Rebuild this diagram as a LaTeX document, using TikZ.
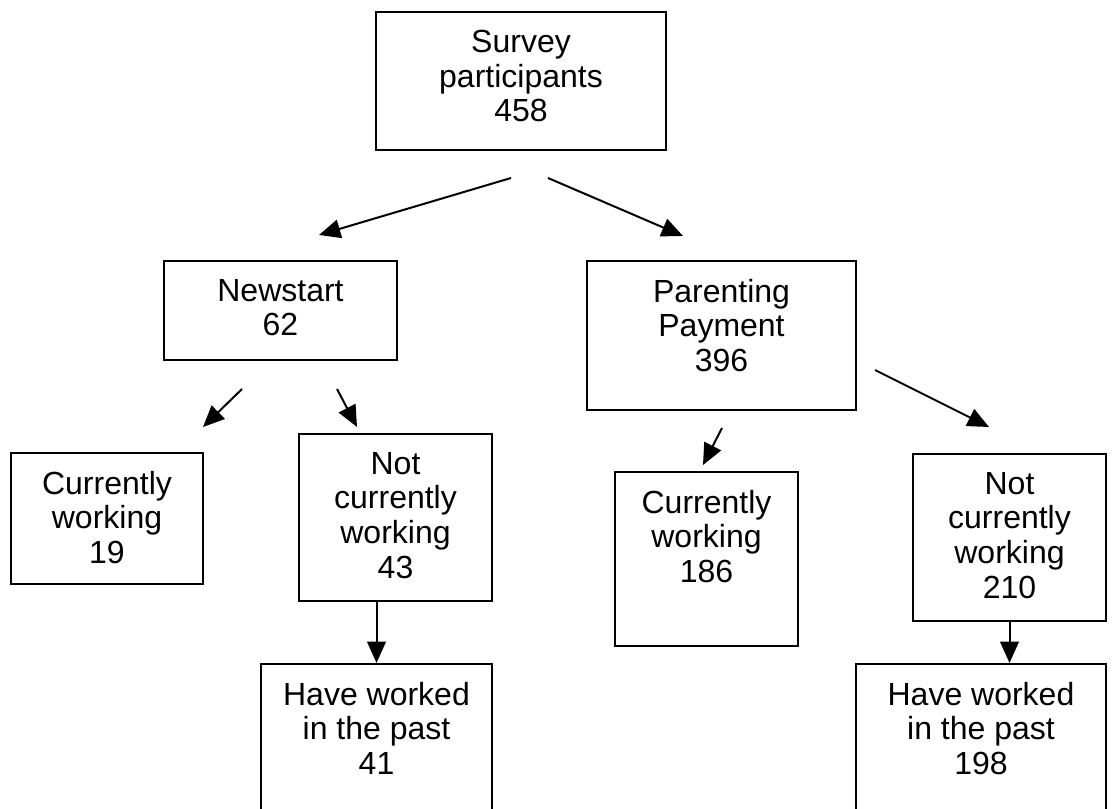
\documentclass[tikz,border=0pt]{standalone}
\usepackage{fontspec}
\setmainfont{Liberation Sans}
\usetikzlibrary{arrows.meta}

\begin{document}
\begin{tikzpicture}[x=0.75pt, y=-0.75pt, >={Triangle[length=16pt,width=14pt]},
  box/.style={draw, line width=1.5pt, anchor=north, align=center,
    inner xsep=0pt, inner ysep=13.5pt, font=\fontsize{24}{26}\selectfont},
  flow/.style={->, line width=1.5pt}]
\useasboundingbox (0,0) rectangle (1116,809);
\clip (0,0) rectangle (1116,809);

% boxes, placed by the middle of their top edge
\node[box, minimum width=217.5pt, text depth=7.7pt] (survey) at (521,11) {Survey\\participants\\458};
\node[box, minimum width=174.75pt, text depth=4.5pt] (newstart) at (280.5,260) {Newstart\\62};
\node[box, minimum width=201.75pt, text depth=15.2pt] (parenting) at (721.5,260) {Parenting\\Payment\\396};

\node[box, minimum width=144pt, text depth=1.7pt] (nsWork) at (107,452) {Currently\\working\\19};
\node[box, minimum width=144.75pt, text depth=3.5pt] (nsNotWork) at (395.5,433) {Not\\currently\\working\\43};
\node[box, minimum width=137.25pt, text depth=34pt] (ppWork) at (706.5,471) {Currently\\working\\186};
\node[box, minimum width=144.75pt, text depth=3.5pt] (ppNotWork) at (1009.5,453) {Not\\currently\\working\\210};

% these two run off the bottom of the page
\node[box, minimum width=173.25pt, text depth=150pt] (nsPast) at (376.5,663) {Have worked\\in the past\\41};
\node[box, minimum width=187.5pt, text depth=150pt] (ppPast) at (981,663) {Have worked\\in the past\\198};

% loose arrows
\coordinate (s1) at (511,178);  \coordinate (t1) at (319,235);
\coordinate (s2) at (548,178);  \coordinate (t2) at (683,236);
\coordinate (s3) at (242,389);  \coordinate (t3) at (203,427);
\coordinate (s4) at (337,389);  \coordinate (t4) at (357,427);
\coordinate (s5) at (722,428);  \coordinate (t5) at (703,465);
\coordinate (s6) at (875,370);  \coordinate (t6) at (989,427);

\foreach \a / \b in {s1/t1, s2/t2, s3/t3, s4/t4, s5/t5, s6/t6}
  \draw[flow] (\a) -- (\b);

\draw[flow] (nsNotWork.south -| nsPast.north) -- (nsPast.north);
\draw[flow] (ppNotWork.south) -- (ppNotWork.south |- ppPast.north);

\end{tikzpicture}
\end{document}
